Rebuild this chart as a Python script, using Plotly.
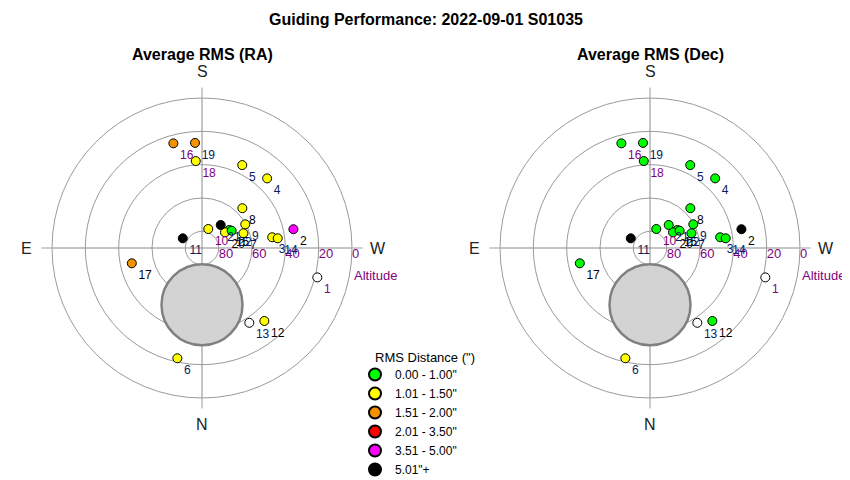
import plotly.graph_objects as go

# ---------------- data ----------------
point_ids = [str(i) for i in range(1, 23)]
azimuth = [284.3, 258.4, 261.3, 223.1, 205.9, 12.6, 250.4, 225.4, 241.3, 198.3, 116.7,
           319.5, 327.7, 262.7, 236.6, 164.7, 77.7, 175.9, 176.2, 235.7, 219.1, 239.8]
altitude = [18.6, 34.0, 47.4, 32.8, 34.7, 22.2, 63.6, 56.0, 60.4, 78.0, 77.1,
            32.4, 36.9, 44.2, 70.4, 24.9, 46.9, 37.7, 26.8, 73.3, 72.2, 69.4]
rms_ra = [None, 4.2, 1.3, 1.2, 1.3, 1.4, 1.1, 1.2, 1.1, 1.2, 5.5,
          1.3, None, 1.2, 0.9, 1.7, 1.8, 1.4, 1.6, 1.3, 5.3, 0.95]
rms_dec = [None, 5.6, 0.8, 0.7, 0.6, 1.2, 0.7, 0.8, 0.9, 0.8, 6.0,
           0.9, None, 0.8, 0.6, 0.9, 0.9, 0.8, 0.7, 0.7, 0.8, 0.5]
label_colors = ["#800080", "#000000", "#0a1a5c", "#0a1a5c", "#0a1a5c", "#0a1a5c", "#0a1a5c",
                "#000000", "#0a1a5c", "#800080", "#0a1a5c", "#000000", "#0a1a5c", "#0a1a5c",
                "#000000", "#800080", "#000000", "#800080", "#0a1a5c", "#000000", "#0a1a5c",
                "#0a1a5c"]

bin_labels = ['0.00 - 1.00"', '1.01 - 1.50"', '1.51 - 2.00"', '2.01 - 3.50"', '3.51 - 5.00"', '5.01"+']
bin_upper = [1.00, 1.50, 2.00, 3.50, 5.00, float("inf")]
bin_colors = ["#00ff00", "#ffff00", "#f39200", "#ff0000", "#ff00ff", "#000000"]
nodata_color = "#ffffff"

compass_az = [0, 90, 180, 270]
compass_labels = ["N", "E", "S", "W"]
alt_ticks = [80, 60, 40, 20, 0]

zone_az = [0]
zone_alt = [56.0]

panel_titles = ["Average RMS (RA)", "Average RMS (Dec)"]
main_title = "Guiding Performance: 2022-09-01 S01035"
legend_title = 'RMS Distance (")'

FONT = "Liberation Sans, Arial, sans-serif"
GRID = "#9a9a9a"
W, H = 850, 480


def rms_color(v):
    if v is None:
        return nodata_color
    for up, c in zip(bin_upper, bin_colors):
        if v <= up:
            return c
    return bin_colors[-1]


def px(x):
    return x / W


def py(y):
    return 1 - y / H


zen = [90 - a for a in altitude]

fig = go.Figure()
polars = ["polar", "polar2"]
for pname, values in zip(polars, [rms_ra, rms_dec]):
    # exclusion zone
    fig.add_trace(go.Scatterpolar(
        r=[90 - a for a in zone_alt], theta=zone_az, mode="markers",
        marker=dict(size=81, color="#d3d3d3", line=dict(color="#808080", width=2.5)),
        subplot=pname, showlegend=False, hoverinfo="skip"))
    # altitude tick labels
    fig.add_trace(go.Scatterpolar(
        r=[90 - a for a in alt_ticks], theta=[270] * len(alt_ticks), mode="text",
        text=[str(a) for a in alt_ticks], textposition="bottom right",
        textfont=dict(family=FONT, size=13, color="#800080"),
        subplot=pname, showlegend=False, hoverinfo="skip", cliponaxis=False))
    # guiding points
    fig.add_trace(go.Scatterpolar(
        r=zen, theta=azimuth, mode="markers+text", text=point_ids,
        textposition="bottom right",
        textfont=dict(family=FONT, size=12, color=label_colors),
        marker=dict(size=9, color=[rms_color(v) for v in values],
                    line=dict(color="#000000", width=1)),
        subplot=pname, showlegend=False, cliponaxis=False))

# legend entries
for lab, col in zip(bin_labels, bin_colors):
    fig.add_trace(go.Scatterpolar(
        r=[None], theta=[None], mode="markers", name=lab,
        marker=dict(size=9, color=col, line=dict(color="#000000", width=1)),
        subplot="polar", showlegend=True))

polar_common = dict(
    bgcolor="rgba(0,0,0,0)",
    radialaxis=dict(range=[0, 90], tickvals=[90 - a for a in alt_ticks], showticklabels=False,
                    ticks="", showline=False, gridcolor=GRID, gridwidth=1, angle=0),
    angularaxis=dict(rotation=270, direction="clockwise", tickvals=compass_az,
                     showticklabels=False, ticks="outside", ticklen=10, tickcolor=GRID,
                     showline=True, linecolor=GRID, linewidth=1, gridcolor="#8a8a8a"),
)

# polar centres / radius (figure pixels; the page adds an 8px offset)
centres = [(194, 240), (642, 240)]
label_dist = 176
compass_offsets = {"N": (0, label_dist), "E": (-label_dist, 0), "S": (0, -label_dist),
                   "W": (label_dist, 0)}

annotations = [
    dict(text="<b>" + main_title + "</b>", x=px(418), y=py(11), xref="paper", yref="paper",
         showarrow=False, font=dict(family=FONT, size=16), xanchor="center", yanchor="middle"),
    dict(text=legend_title, x=px(365), y=py(349), xref="paper", yref="paper",
         showarrow=False, font=dict(family=FONT, size=13), xanchor="left", yanchor="middle"),
]
for (cx, cy), ptitle in zip(centres, panel_titles):
    annotations.append(dict(text="<b>" + ptitle + "</b>", x=px(cx), y=py(47), xref="paper",
                            yref="paper", showarrow=False, font=dict(family=FONT, size=16),
                            xanchor="center", yanchor="middle"))
    annotations.append(dict(text="Altitude", x=px(cx + 150), y=py(cy + 27), xref="paper",
                            yref="paper", showarrow=False,
                            font=dict(family=FONT, size=13, color="#800080"),
                            xanchor="left", yanchor="middle"))
    for lab in compass_labels:
        dx, dy = compass_offsets[lab]
        annotations.append(dict(text=lab, x=px(cx + dx), y=py(cy + dy), xref="paper",
                                yref="paper", showarrow=False,
                                font=dict(family=FONT, size=16, color="#222222"),
                                xanchor="center", yanchor="middle"))

fig.update_layout(
    width=W, height=H,
    margin=dict(l=0, r=0, t=0, b=0),
    paper_bgcolor="white", plot_bgcolor="white",
    font=dict(family=FONT, size=12, color="#000000"),
    polar=dict(domain=dict(x=[px(44), px(344)], y=[py(390), py(90)]), **polar_common),
    polar2=dict(domain=dict(x=[px(492), px(792)], y=[py(390), py(90)]), **polar_common),
    showlegend=True,
    legend=dict(x=px(347), y=py(352), xanchor="left", yanchor="top",
                font=dict(family=FONT, size=12), bgcolor="rgba(0,0,0,0)",
                itemsizing="constant", tracegroupgap=0),
    annotations=annotations,
)

fig.write_html("out.html")
